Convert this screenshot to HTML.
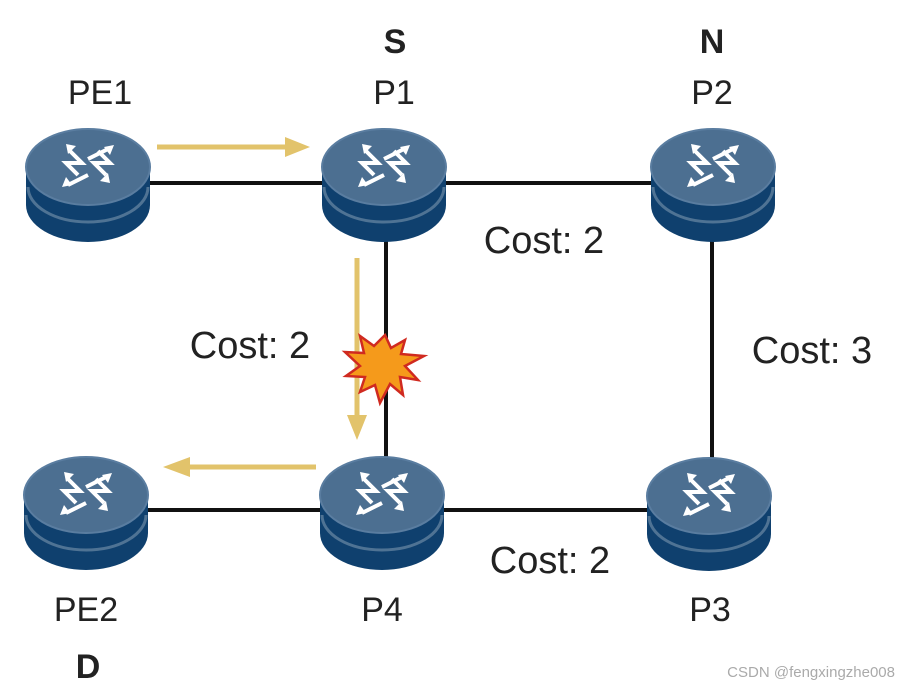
<!DOCTYPE html>
<html><head><meta charset="utf-8"><style>
html,body{margin:0;padding:0;background:#fff;}
svg{display:block;}
text{font-family:"Liberation Sans",sans-serif;fill:#222;}
</style></head><body>
<svg width="898" height="686" viewBox="0 0 898 686" xmlns="http://www.w3.org/2000/svg">
<defs>
<g id="r">
  <path d="M0,40 L0,78 A62,37 0 0 0 124,78 L124,40 Z" fill="#0f406e"/>
  <path d="M2,60 A60,35 0 0 0 122,60" fill="none" stroke="#4f7394" stroke-width="3"/>
  <ellipse cx="62" cy="40" rx="62" ry="38" fill="#4c6f91"/>
  <ellipse cx="62" cy="40" rx="62" ry="38" fill="none" stroke="#5a7da0" stroke-width="2"/>
  <g stroke="#fff" stroke-width="4" fill="none" stroke-linejoin="miter">
    <path d="M44,24 L56,36 L40,36 L52,48"/>
    <path d="M80,48 L68,36 L84,36 L72,24"/>
    <path d="M62,32 L82,22"/>
    <path d="M62,48 L42,58"/>
  </g>
  <g fill="#fff">
    <path d="M40,17 L50,19 L42,27 Z"/>
    <path d="M88,18 L84,28 L78,20 Z"/>
    <path d="M36,60 L40,50 L46,58 Z"/>
    <path d="M84,56 L74,54 L82,46 Z"/>
  </g>
</g>
</defs>
<g stroke="#111" stroke-width="4">
  <line x1="140" y1="183" x2="330" y2="183"/>
  <line x1="440" y1="183" x2="660" y2="183"/>
  <line x1="386" y1="235" x2="386" y2="465"/>
  <line x1="712" y1="235" x2="712" y2="465"/>
  <line x1="140" y1="510" x2="330" y2="510"/>
  <line x1="440" y1="510" x2="655" y2="510"/>
</g>
<use href="#r" x="26" y="127"/>
<use href="#r" x="322" y="127"/>
<use href="#r" x="651" y="127"/>
<use href="#r" x="24" y="455"/>
<use href="#r" x="320" y="455"/>
<use href="#r" x="647" y="456"/>
<g stroke="#e2c36b" stroke-width="5" fill="#e2c36b">
  <line x1="157" y1="147" x2="290" y2="147"/>
  <path d="M285,137 L310,147 L285,157 Z" stroke="none"/>
  <line x1="357" y1="258" x2="357" y2="420"/>
  <path d="M347,415 L357,440 L367,415 Z" stroke="none"/>
  <line x1="316" y1="467" x2="185" y2="467"/>
  <path d="M190,457 L163,467 L190,477 Z" stroke="none"/>
</g>
<path d="M385,335 L391,348 L405,340 L401,354 L424,356 L405,366 L418,380 L400,377 L403,395 L390,384 L380,403 L375,385 L360,392 L365,377 L346,376 L360,366 L345,352 L364,353 L360,336 L374,346 Z" fill="#f59a1b" stroke="#d02a20" stroke-width="2.5"/>
<g font-size="34" text-anchor="middle">
  <text x="100" y="104">PE1</text>
  <text x="394" y="104">P1</text>
  <text x="712" y="104">P2</text>
  <text x="86" y="621">PE2</text>
  <text x="382" y="621">P4</text>
  <text x="710" y="621">P3</text>
</g>
<g font-size="38" text-anchor="middle">
  <text x="544" y="253">Cost: 2</text>
  <text x="250" y="358">Cost: 2</text>
  <text x="812" y="363">Cost: 3</text>
  <text x="550" y="573">Cost: 2</text>
</g>
<g font-size="34" font-weight="bold" text-anchor="middle">
  <text x="395" y="53">S</text>
  <text x="712" y="53">N</text>
  <text x="88" y="678">D</text>
</g>
<text x="895" y="677" font-size="15" text-anchor="end" style="fill:#aaa">CSDN @fengxingzhe008</text>
</svg>
</body></html>
